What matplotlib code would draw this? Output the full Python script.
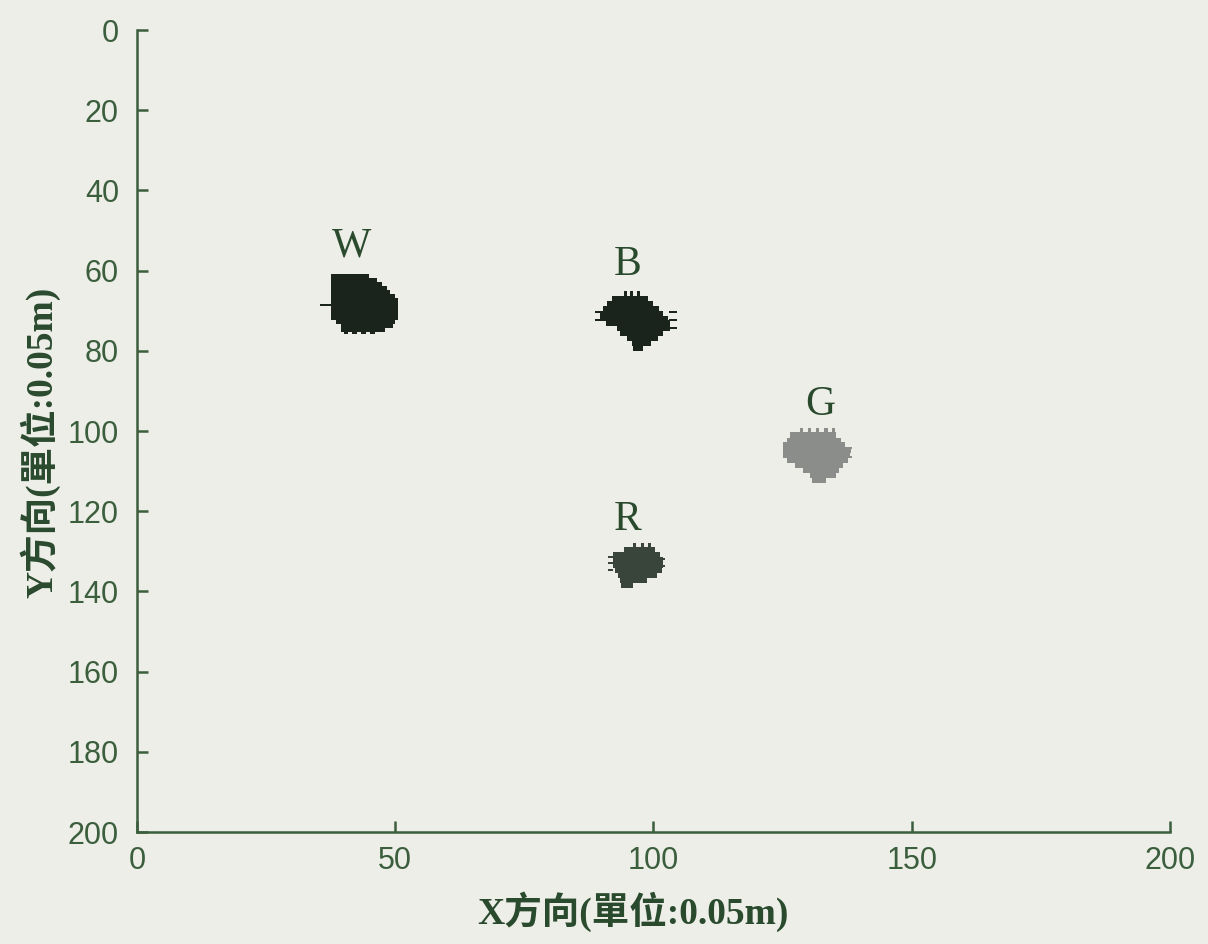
import matplotlib
matplotlib.use("Agg")
import matplotlib.pyplot as plt

# ---- data: blob rows (y_center, x_start, x_end) ----
W_rows = [(61.6, 37.5, 45.0), (62.6, 37.5, 46.5), (63.6, 37.5, 47.5), (64.6, 37.5, 48.5),
          (65.6, 37.5, 49.0), (66.6, 37.5, 50.0), (67.6, 37.5, 50.5), (68.6, 37.5, 50.5),
          (69.6, 37.5, 50.5), (70.6, 37.5, 50.5), (71.6, 37.5, 50.5), (72.6, 38.5, 50.0),
          (73.6, 39.5, 49.5), (74.6, 39.5, 48.0)]
W_teeth = [(68.6, 35.4, 37.5, 0.5), (75.4, 40.0, 40.9, 1.0), (75.4, 41.7, 42.6, 1.0),
           (75.4, 43.4, 44.3, 1.0), (75.4, 45.1, 46.0, 1.0)]

B_rows = [(66.9, 92.0, 99.0), (68.2, 91.0, 100.0), (69.4, 90.3, 101.0), (70.7, 89.6, 101.9),
          (71.9, 89.6, 102.9), (73.1, 90.9, 103.2), (74.4, 92.9, 103.2), (75.6, 93.5, 101.9),
          (76.9, 94.8, 100.9), (78.2, 95.8, 99.6), (79.4, 96.1, 98.0)]
B_teeth = [(65.8, 94.2, 94.8, 1.2), (65.8, 95.5, 96.1, 1.2), (65.8, 96.8, 97.4, 1.2),
           (70.2, 88.6, 89.6, 0.5), (72.3, 88.6, 89.6, 0.5),
           (70.2, 103.0, 104.5, 0.5), (72.3, 103.0, 104.5, 0.5), (74.4, 103.0, 104.5, 0.5)]

G_rows = [(101.0, 126.4, 135.4), (102.3, 125.8, 136.4), (103.5, 125.1, 137.0),
          (104.8, 125.1, 138.3), (106.0, 125.1, 138.0), (107.3, 125.8, 137.7),
          (108.5, 127.4, 136.7), (109.7, 129.0, 136.0), (111.0, 130.3, 135.4),
          (112.2, 130.6, 133.5)]
G_teeth = [(99.9, 128.3, 128.9, 1.2), (99.9, 129.9, 130.5, 1.2), (99.9, 131.5, 132.1, 1.2),
           (99.9, 133.1, 133.7, 1.2), (99.9, 134.5, 135.1, 1.2),
           (104.3, 137.0, 138.4, 0.5), (106.4, 137.5, 138.4, 0.5)]

R_rows = [(129.7, 94.2, 100.3), (130.9, 92.2, 101.3), (132.2, 92.2, 101.9),
          (133.4, 92.2, 101.9), (134.7, 92.5, 101.6), (135.9, 93.2, 100.6),
          (137.1, 93.5, 98.7), (138.4, 93.8, 96.1)]
R_teeth = [(128.5, 96.1, 96.7, 1.2), (128.5, 97.5, 98.1, 1.2), (128.5, 99.0, 99.6, 1.2),
           (131.3, 91.2, 92.2, 0.5), (133.0, 91.2, 92.2, 0.5), (134.6, 91.2, 92.2, 0.5),
           (132.0, 101.5, 102.3, 0.5), (133.7, 101.5, 102.3, 0.5)]

labels = ["W", "B", "G", "R"]
label_x = [41.6, 95.0, 132.2, 94.9]
label_y = [54.0, 58.6, 93.5, 122.2]

x_ticks = [0, 50, 100, 150, 200]
y_ticks = [0, 20, 40, 60, 80, 100, 120, 140, 160, 180, 200]

# ---- style ----
bg = "#eceee7"
axis_col = "#3b5e3d"
text_col = "#2a4a2e"
colors = {"W": "#1b241c", "B": "#1b241c", "G": "#8b8d8b", "R": "#39443b"}

fig = plt.figure(figsize=(12.08, 9.44), dpi=100, facecolor=bg)
ax = fig.add_axes([0.1134, 0.1186, 0.8551, 0.8496])
ax.set_facecolor(bg)

blobs = {"W": (W_rows, W_teeth), "B": (B_rows, B_teeth),
         "G": (G_rows, G_teeth), "R": (R_rows, R_teeth)}
for name, (rows, teeth) in blobs.items():
    c = colors[name]
    ax.barh([r[0] for r in rows], [r[2] - r[1] for r in rows], left=[r[1] for r in rows],
            height=1.35, color=c, edgecolor="none")
    ax.barh([t[0] for t in teeth], [t[2] - t[1] for t in teeth], left=[t[1] for t in teeth],
            height=[t[3] for t in teeth], color=c, edgecolor="none")

for lab, lx, ly in zip(labels, label_x, label_y):
    ax.text(lx, ly, lab, ha="center", va="center", fontsize=30,
            family="Liberation Serif", color=text_col)

ax.set_xlim(0, 200)
ax.set_ylim(200, 0)
ax.set_xticks(x_ticks)
ax.set_yticks(y_ticks)
for s in ["top", "right"]:
    ax.spines[s].set_visible(False)
for s in ["left", "bottom"]:
    ax.spines[s].set_color(axis_col)
    ax.spines[s].set_linewidth(1.8)
ax.tick_params(direction="in", length=8, width=1.8, color=axis_col,
               labelcolor=axis_col, labelsize=22)
ax.tick_params(axis="y", pad=13)
ax.tick_params(axis="x", pad=10)
for t in ax.get_xticklabels() + ax.get_yticklabels():
    t.set_family("Liberation Sans")

lab_font = ["Liberation Serif", "Noto Sans CJK TC"]
ax.set_xlabel("X方向(單位:0.05m)", family=lab_font, fontsize=27, fontweight="bold",
              color=text_col, va="center", ha="center")
ax.xaxis.set_label_coords(0.480, -0.0998)
ax.set_ylabel("Y方向(單位:0.05m)", family=lab_font, fontsize=27, fontweight="bold",
              color=text_col, va="center", ha="center")
ax.yaxis.set_label_coords(-0.0939, 0.486)

fig.savefig("out.png", dpi=100, facecolor=bg)
